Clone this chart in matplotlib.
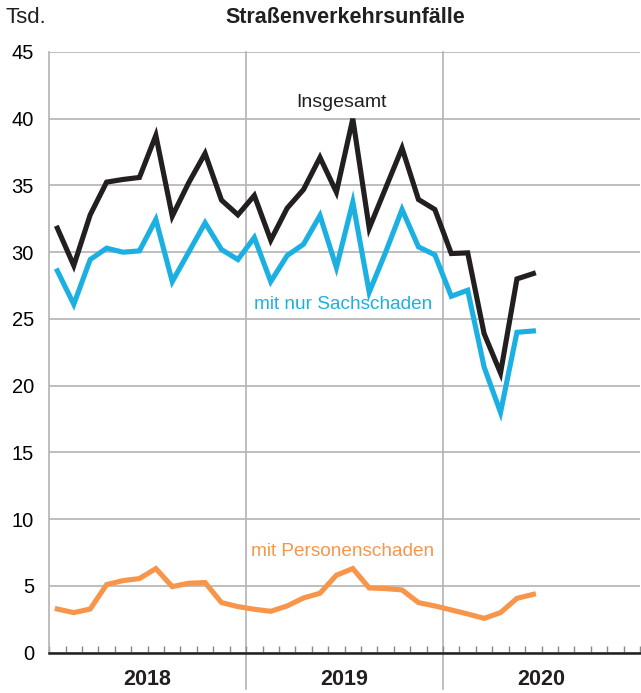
import matplotlib
matplotlib.use("Agg")
import matplotlib.pyplot as plt

BLACK, BLUE, ORANGE, GRID = "#231f20", "#1cb0e2", "#f7964a", "#b3b3b3"
plt.rcParams.update({"font.family": "Liberation Sans", "font.size": 14})

# monthly values Jan 2018 .. Jun 2020, in thousand
years = ["2018", "2019", "2020"]
insgesamt = [31.8, 29.0, 32.8, 35.25, 35.45, 35.6, 38.75, 32.7, 35.2, 37.4, 33.9, 32.8,
             34.25, 30.9, 33.3, 34.7, 37.1, 34.5, 40.0, 31.8, 34.8, 37.8, 33.95, 33.2,
             29.9, 29.95, 23.9, 20.95, 28.0, 28.4]
sachschaden = [28.6, 26.1, 29.45, 30.3, 30.0, 30.1, 32.45, 27.8, 30.0, 32.2, 30.2, 29.45,
               31.1, 27.8, 29.75, 30.6, 32.75, 28.85, 33.75, 27.0, 30.0, 33.2, 30.4, 29.8,
               26.7, 27.15, 21.4, 18.0, 24.0, 24.1]
personenschaden = [3.27, 3.0, 3.27, 5.1, 5.4, 5.55, 6.3, 4.95, 5.2, 5.25, 3.75, 3.45,
                   3.25, 3.1, 3.5, 4.1, 4.45, 5.8, 6.3, 4.85, 4.8, 4.7, 3.75, 3.5,
                   3.2, 2.9, 2.57, 3.0, 4.07, 4.37]
yticks = [0, 5, 10, 15, 20, 25, 30, 35, 40, 45]

fig = plt.figure(figsize=(6.41, 6.93), dpi=100)
ax = fig.add_axes([0.0767, 0.0582, 0.9218, 0.8668])
x = list(range(len(insgesamt)))
lw = 3.7
ax.plot(x, personenschaden, color=ORANGE, lw=lw, solid_joinstyle="miter", zorder=3)
ax.plot(x, sachschaden, color=BLUE, lw=lw, solid_joinstyle="miter", zorder=3)
ax.plot(x, insgesamt, color=BLACK, lw=lw, solid_joinstyle="miter", zorder=4)

ax.set_xlim(-0.5, 35.5)
ax.set_ylim(0, 45)
ax.set_yticks(yticks)
ax.set_yticklabels([str(v) for v in yticks])
ax.tick_params(axis="y", length=0, pad=11, labelsize=14.5)
ax.set_xticks([-0.5 + k for k in range(37)])
ax.set_xticklabels([])
ax.tick_params(axis="x", direction="in", length=5, width=1.0, color="#888888")
ax.yaxis.grid(True, color=GRID, lw=1.2, zorder=1)
for s in ("top", "right"):
    ax.spines[s].set_visible(False)
ax.spines["left"].set_color(GRID)
ax.spines["left"].set_linewidth(1.2)
ax.spines["bottom"].set_color(BLACK)
ax.spines["bottom"].set_linewidth(1.8)
ax.spines["bottom"].set_zorder(5)

for b in (11.5, 23.5):
    ax.axvline(b, ymin=-0.06, ymax=1, color=GRID, lw=1.2, clip_on=False, zorder=1)

for i, yr in enumerate(years):
    ax.text(5.5 + 12 * i, -0.044, yr, transform=ax.get_xaxis_transform(), ha="center",
            va="center", fontsize=15.5, fontweight="bold", color=BLACK)

ax.text(17.3, 41.2, "Insgesamt", ha="center", va="center", fontsize=14, color=BLACK)
ax.text(17.4, 26.1, "mit nur Sachschaden", ha="center", va="center", fontsize=13.7, color=BLUE)
ax.text(17.4, 7.6, "mit Personenschaden", ha="center", va="center", fontsize=13.7, color=ORANGE)

fig.text(0.009, 0.975, "Tsd.", ha="left", va="center", fontsize=16, color=BLACK)
fig.text(0.538, 0.975, "Straßenverkehrsunfälle", ha="center", va="center", fontsize=15.5,
         fontweight="bold", color=BLACK)

fig.savefig("out.png", dpi=100)
